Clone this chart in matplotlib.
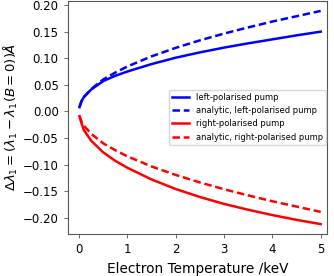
import numpy as np
import matplotlib
matplotlib.use("Agg")
import matplotlib.pyplot as plt

# electron temperature grid (keV) and wavelength shifts
T_e = [0.01, 0.05, 0.1, 0.25, 0.5, 0.75, 1.0, 1.5, 2.0, 2.5, 3.0, 3.5, 4.0, 4.5, 5.0]

left_num = [0.008, 0.019, 0.027, 0.041, 0.057, 0.067, 0.075, 0.089, 0.101,
            0.111, 0.120, 0.128, 0.1355, 0.143, 0.150]
left_ana = [0.0085, 0.0189, 0.0267, 0.042, 0.060, 0.073, 0.0845, 0.1035, 0.1195,
            0.1336, 0.1464, 0.158, 0.169, 0.179, 0.189]
right_num = [-0.009, -0.022, -0.035, -0.055, -0.077, -0.093, -0.106, -0.128, -0.146,
             -0.161, -0.174, -0.185, -0.195, -0.204, -0.212]
right_ana = [-0.0085, -0.0189, -0.0267, -0.042, -0.060, -0.073, -0.0845, -0.1035, -0.1195,
             -0.1336, -0.1464, -0.158, -0.169, -0.179, -0.189]

fig = plt.figure(figsize=(3.34, 2.76), dpi=100)
ax = fig.add_axes([0.2027, 0.152, 0.7773, 0.846])

lw = 1.8
dash = (3.0, 1.5)
ax.plot(T_e, left_num, color='b', lw=lw, label="left-polarised pump")
ax.plot(T_e, left_ana, color='b', lw=lw, ls='--', dashes=dash, label="analytic, left-polarised pump")
ax.plot(T_e, right_num, color='r', lw=lw, label="right-polarised pump")
ax.plot(T_e, right_ana, color='r', lw=lw, ls='--', dashes=dash, label="analytic, right-polarised pump")

ax.set_xlim(-0.234, 5.137)
ax.set_ylim(-0.2307, 0.2085)
ax.set_xticks([0, 1, 2, 3, 4, 5])
ax.set_yticks([-0.20, -0.15, -0.10, -0.05, 0.00, 0.05, 0.10, 0.15, 0.20])
ax.tick_params(labelsize=8.5, width=0.6, length=3, color='#555')
for s in ax.spines.values():
    s.set_color('#555')
    s.set_linewidth(0.8)

ax.set_xlabel("Electron Temperature /keV", fontsize=9.8)
ax.set_ylabel(r"$\Delta\lambda_1 = (\lambda_1 - \lambda_1(B=0))\AA$", fontsize=9.5)
ax.yaxis.set_label_coords(-0.182, 0.5)

ax.legend(loc='center right', bbox_to_anchor=(0.995, 0.5), fontsize=6,
          handlelength=2.0, borderaxespad=0.0)

fig.savefig("out.png", dpi=100)
